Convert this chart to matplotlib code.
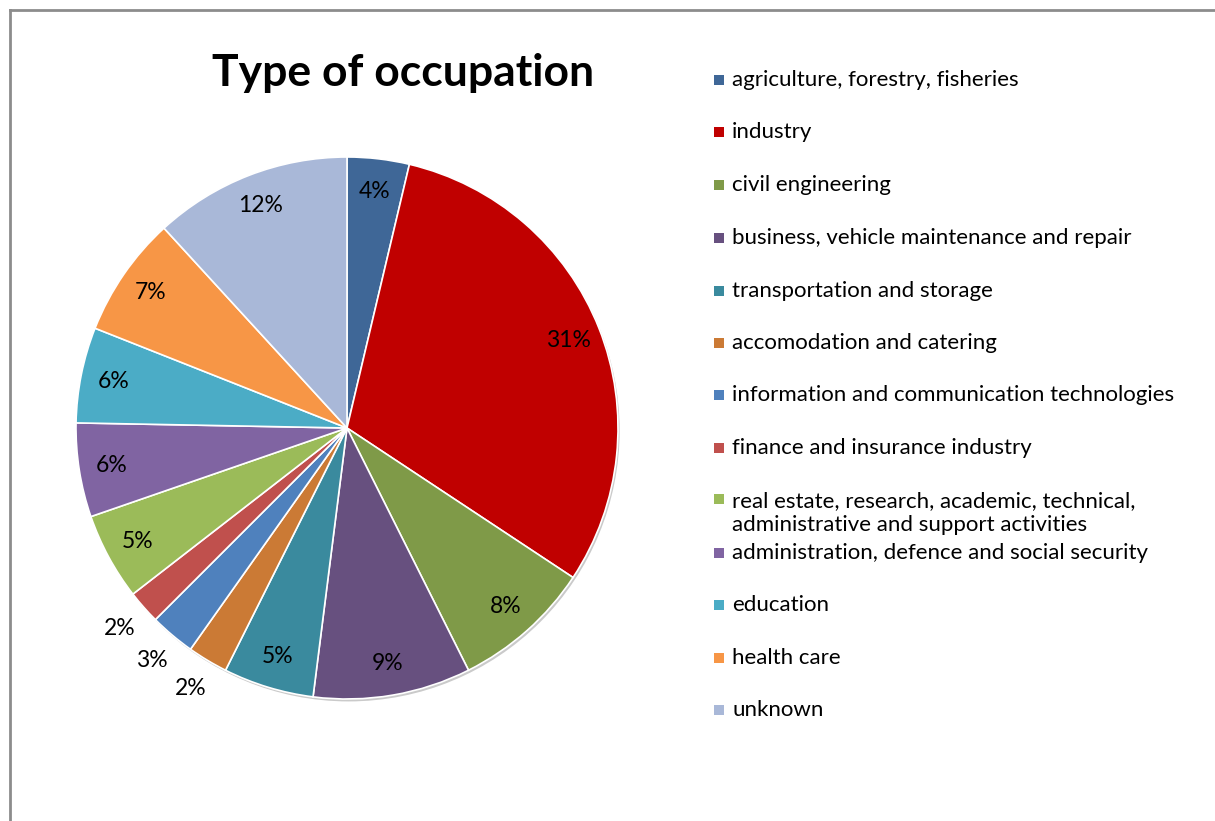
import matplotlib
matplotlib.use("Agg")
import matplotlib.pyplot as plt
import numpy as np
from matplotlib.lines import Line2D
from matplotlib.patches import Rectangle, Circle

categories = [
    "agriculture, forestry, fisheries",
    "industry",
    "civil engineering",
    "business, vehicle maintenance and repair",
    "transportation and storage",
    "accomodation and catering",
    "information and communication technologies",
    "finance and insurance industry",
    "real estate, research, academic, technical,\nadministrative and support activities",
    "administration, defence and social security",
    "education",
    "health care",
    "unknown",
]
values = [3.7, 30.6, 8.3, 9.4, 5.4, 2.4, 2.7, 2.0, 5.2, 5.6, 5.7, 7.2, 11.8]
colors = ["#3F6797", "#C00000", "#7F9A48", "#67507F", "#3A8A9E", "#CB7A35",
          "#4F81BD", "#C0504D", "#9BBB59", "#8064A2", "#4BACC6", "#F79646",
          "#A9B8D8"]

plt.rcParams['font.family'] = ['Lato', 'DejaVu Sans']

W, H = 1215, 821
fig = plt.figure(figsize=(W / 100, H / 100), dpi=100)

def fx(x):
    return x / W

def fy(y):
    return 1 - y / H

# border (left & top)
fig.add_artist(Line2D([fx(10), fx(10)], [0, fy(10)], color="#8C8C8C", lw=2))
fig.add_artist(Line2D([fx(10), 1], [fy(10), fy(10)], color="#8C8C8C", lw=2))

# pie axes: center (347,428), radius 271 px
cx, cy, R = 347, 428, 271
lim = 1.3
half = R * lim
ax = fig.add_axes([fx(cx - half), 1 - (cy + half) / H, 2 * half / W, 2 * half / H])
ax.add_patch(Circle((0.006, -0.009), 1.0, facecolor="#BDBDBD", edgecolor="none",
                    zorder=0, alpha=0.8))
wedges, _ = ax.pie(values, colors=colors, startangle=90, counterclock=False,
                   radius=1.0,
                   wedgeprops=dict(edgecolor="white", linewidth=1.2, zorder=2))
ax.set_xlim(-lim, lim)
ax.set_ylim(-lim, lim)
ax.set_aspect("equal")
ax.axis("off")

total = sum(values)
for w, v in zip(wedges, values):
    ang = np.deg2rad((w.theta1 + w.theta2) / 2)
    r = 1.12 if v < 3 else 0.88
    ax.text(r * np.cos(ang), r * np.sin(ang), f"{100 * v / total:.0f}%",
            ha="center", va="center", fontsize=16.5, color="black", zorder=3)

# title
fig.text(fx(403), fy(73), "Type of occupation", ha="center", va="center",
         fontsize=32, fontweight="bold", color="black")

# legend
ys = [80, 132, 185, 238, 291, 343, 395, 448, 513, 553, 605, 658, 710]
for cat, col, y in zip(categories, colors, ys):
    sq_y = y if "\n" not in cat else 499
    fig.add_artist(Rectangle((fx(714), fy(sq_y + 5)), 10 / W, 10 / H,
                             facecolor=col, edgecolor="none"))
    fig.text(fx(732), fy(y), cat, ha="left", va="center", fontsize=16,
             color="black", linespacing=1.3)

fig.savefig("out.png", dpi=100, facecolor="white")
